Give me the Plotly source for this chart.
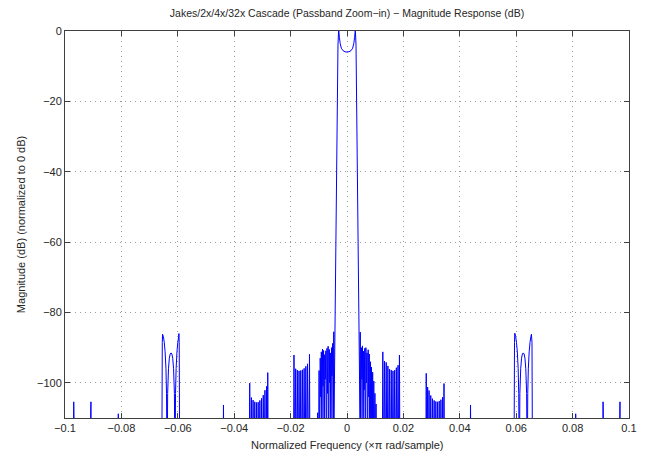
import plotly.graph_objects as go

# ---------------- data ----------------
# normalized frequency (x pi rad/sample) and magnitude (dB); -130 = deep null (below axis)
freq_far_left = [-0.0972, -0.0969, -0.0964, -0.0914, -0.0908, -0.0906, -0.0813, -0.0811, -0.0809]
mag_far_left = [-130, -105.4, -130, -130, -105.4, -130, -130, -108.8, -130]

freq_lobes_left = [-0.0657, -0.0655, -0.0654, -0.0651, -0.0648, -0.0645, -0.0642, -0.0640, -0.0638,
                   -0.0636, -0.0633, -0.0630, -0.0627, -0.0624, -0.0621, -0.0618, -0.0615, -0.0612, -0.0610,
                   -0.0608, -0.0606, -0.0603, -0.0600, -0.0597, -0.0596, -0.0595, -0.0593]
mag_lobes_left = [-130, -88.5, -86.2, -86.9, -88.5, -91.2, -96.0, -103.0, -130,
                  -103.0, -96.0, -93.0, -91.8, -91.5, -91.8, -93.0, -96.0, -103.0, -130,
                  -103.0, -96.0, -91.2, -88.5, -86.9, -86.0, -88.5, -130]

freq_spike_l44 = [-0.0440, -0.0438, -0.0436]
mag_spike_l44 = [-130, -106.3, -130]

freq_cluster_l31 = [-0.0347, -0.0345, -0.0342, -0.0339, -0.0336, -0.0333, -0.0330, -0.0327, -0.0324,
                    -0.0321, -0.0318, -0.0315, -0.0312, -0.0309, -0.0306, -0.0303, -0.0300, -0.0297,
                    -0.0294, -0.0291, -0.0288, -0.0285, -0.0283, -0.0281, -0.0279]
mag_cluster_l31 = [-130, -100.1, -130, -104.2, -130, -104.9, -130, -105.4, -130,
                   -105.6, -130, -105.5, -130, -105.0, -130, -104.4, -130, -103.5,
                   -130, -102.1, -130, -101.0, -130, -97.1, -130]

freq_cluster_l16 = [-0.0190, -0.0188, -0.0185, -0.0182, -0.0179, -0.0176, -0.0173, -0.0170, -0.0167,
                    -0.0164, -0.0161, -0.0158, -0.0155, -0.0152, -0.0149, -0.0146, -0.0143, -0.0140,
                    -0.0136, -0.0133, -0.0131, -0.0106, -0.0104, -0.0102]
mag_cluster_l16 = [-130, -92.1, -130, -96.0, -130, -96.4, -130, -96.6, -130,
                   -96.5, -130, -96.3, -130, -95.9, -130, -95.3, -130, -94.6,
                   -130, -91.9, -130, -130, -108.5, -130]

freq_cluster_l07 = [-0.0101, -0.0099, -0.0097, -0.0095, -0.0093, -0.0091, -0.0089, -0.0087, -0.0085,
                    -0.0083, -0.0081, -0.0079, -0.0077, -0.0075, -0.0073, -0.0071, -0.0069, -0.0067,
                    -0.0065, -0.0063, -0.0061, -0.0059, -0.0057, -0.0055, -0.0053, -0.0051, -0.0049,
                    -0.0047, -0.00466]
mag_cluster_l07 = [-130, -96.5, -130, -93.0, -104, -91.2, -130, -90.4, -101,
                   -90.8, -130, -92.0, -99, -90.9, -130, -90.2, -103, -89.6,
                   -130, -90.5, -100, -91.5, -130, -90.0, -98, -88.8, -130,
                   -85.5, -130]

freq_main_lobe = [-0.00462, -0.0032, -0.0030, -0.0029, -0.0027, -0.0024, -0.0020, -0.0014, -0.0007,
                  0.0, 0.0007, 0.0014, 0.0020, 0.0024, 0.0027, 0.0029, 0.0030, 0.0032, 0.00462]
mag_main_lobe = [-112, -4.0, -0.3, 0.0, -1.8, -3.6, -4.9, -5.6, -5.9,
                 -6.0, -5.9, -5.6, -4.9, -3.6, -1.8, 0.0, -0.3, -4.0, -112]

freq_cluster_r07 = [0.00466, 0.0047, 0.0049, 0.0051, 0.0053, 0.0055, 0.0057, 0.0059, 0.0061,
                    0.0063, 0.0065, 0.0067, 0.0069, 0.0071, 0.0073, 0.0075, 0.0077, 0.0079,
                    0.0081, 0.0083, 0.0085, 0.0087, 0.0089, 0.0091, 0.0093, 0.0095, 0.0097,
                    0.0099, 0.0101, 0.0103, 0.0105]
mag_cluster_r07 = [-130, -85.6, -130, -90.0, -99, -89.5, -130, -91.0, -102,
                   -90.2, -130, -90.0, -100, -91.5, -130, -90.6, -104, -91.8,
                   -130, -94.0, -130, -95.5, -130, -97.0, -130, -99.5, -130,
                   -103.0, -130, -106.0, -130]

freq_cluster_r16 = [0.0125, 0.0127, 0.0130, 0.0133, 0.0136, 0.0139, 0.0142, 0.0145, 0.0148,
                    0.0151, 0.0154, 0.0157, 0.0160, 0.0163, 0.0166, 0.0169, 0.0172, 0.0175,
                    0.0178, 0.0181, 0.0184, 0.0186, 0.0188]
mag_cluster_r16 = [-130, -91.2, -130, -93.8, -130, -94.2, -130, -95.2, -130,
                   -96.1, -130, -96.4, -130, -96.6, -130, -96.4, -130, -95.7,
                   -130, -95.0, -130, -92.1, -130]

freq_cluster_r31 = [0.0279, 0.0281, 0.0283, 0.0286, 0.0288, 0.0291, 0.0294, 0.0297, 0.0300,
                    0.0303, 0.0306, 0.0309, 0.0312, 0.0315, 0.0318, 0.0321, 0.0324, 0.0327,
                    0.0330, 0.0333, 0.0336, 0.0339, 0.0342, 0.0344, 0.0346]
mag_cluster_r31 = [-130, -97.3, -130, -101.2, -130, -102.2, -130, -103.6, -130,
                   -104.5, -130, -105.0, -130, -105.3, -130, -105.4, -130, -105.2,
                   -130, -104.8, -130, -104.1, -130, -100.2, -130]

freq_spike_r44 = [0.0436, 0.0438, 0.0440]
mag_spike_r44 = [-130, -106.3, -130]

freq_lobes_right = [0.0592, 0.0594, 0.0595, 0.0598, 0.0601, 0.0604, 0.0607, 0.0609, 0.0611,
                    0.0613, 0.0616, 0.0619, 0.0622, 0.0625, 0.0628, 0.0631, 0.0634, 0.0637, 0.0639,
                    0.0641, 0.0643, 0.0646, 0.0649, 0.0652, 0.0654, 0.0656, 0.0658]
mag_lobes_right = [-130, -88.5, -85.9, -86.8, -88.5, -91.2, -96.0, -103.0, -130,
                   -103.0, -96.0, -93.0, -91.8, -91.5, -91.8, -93.0, -96.0, -103.0, -130,
                   -103.0, -96.0, -91.2, -88.5, -86.9, -86.2, -88.5, -130]

freq_far_right = [0.0809, 0.0811, 0.0813, 0.0906, 0.0908, 0.0913, 0.0964, 0.0968, 0.0970]
mag_far_right = [-130, -108.8, -130, -130, -105.4, -130, -130, -105.4, -130]

x_tick_vals = [-0.1, -0.08, -0.06, -0.04, -0.02, 0, 0.02, 0.04, 0.06, 0.08, 0.1]
x_tick_text = ["\u22120.1", "\u22120.08", "\u22120.06", "\u22120.04", "\u22120.02", "0",
               "0.02", "0.04", "0.06", "0.08", "0.1"]
y_tick_vals = [-100, -80, -60, -40, -20, 0]
y_tick_text = ["\u2212100", "\u221280", "\u221260", "\u221240", "\u221220", "0"]

title_text = "Jakes/2x/4x/32x Cascade (Passband Zoom\u2212in) \u2212 Magnitude Response (dB)"
x_label = "Normalized Frequency (\u00d7\u03c0 rad/sample)"
y_label = "Magnitude (dB) (normalized to 0 dB)"

segments = [
    (freq_far_left, mag_far_left), (freq_lobes_left, mag_lobes_left), (freq_spike_l44, mag_spike_l44),
    (freq_cluster_l31, mag_cluster_l31), (freq_cluster_l16, mag_cluster_l16),
    (freq_cluster_l07, mag_cluster_l07), (freq_main_lobe, mag_main_lobe),
    (freq_cluster_r07, mag_cluster_r07), (freq_cluster_r16, mag_cluster_r16),
    (freq_cluster_r31, mag_cluster_r31), (freq_spike_r44, mag_spike_r44),
    (freq_lobes_right, mag_lobes_right), (freq_far_right, mag_far_right),
]

W, H = 647, 453
L, R, T, B = 65, 10, 31, 35
FONT = "Liberation Sans, Arial, sans-serif"
TXT = "#262626"

fig = go.Figure()
for f, m in segments:
    fig.add_trace(go.Scatter(x=f, y=m, mode="lines",
                             line=dict(color="#0000ff", width=1, simplify=False), hoverinfo="skip"))

axis_common = dict(
    showline=True, linecolor="#404040", linewidth=1, mirror="ticks",
    ticks="inside", ticklen=5, tickcolor="#404040", tickwidth=1,
    showgrid=True, gridcolor="#9a9a9a", gridwidth=1, griddash="1px,4px",
    zeroline=False, tickfont=dict(family=FONT, size=11, color=TXT),
)

fig.update_layout(
    width=W, height=H,
    margin=dict(l=L, r=R, t=T, b=B),
    paper_bgcolor="white", plot_bgcolor="white",
    showlegend=False,
    title=dict(text=title_text, x=0.5, xref="paper", xanchor="center",
               y=1 - 13 / H, yref="container", yanchor="middle",
               font=dict(family=FONT, size=10.5, color=TXT)),
    xaxis=dict(range=[-0.1, 0.1], tickvals=x_tick_vals, ticktext=x_tick_text, **axis_common),
    yaxis=dict(range=[-110, 0], tickvals=y_tick_vals, ticktext=y_tick_text, **axis_common),
    annotations=[
        dict(text=x_label, x=0.5, y=0, xref="paper", yref="paper", xanchor="center",
             yanchor="top", yshift=-19, showarrow=False,
             font=dict(family=FONT, size=11, color=TXT)),
        dict(text=y_label, x=-45 / (W - L - R), y=0.5, xref="paper", yref="paper",
             xanchor="center", yanchor="middle", textangle=-90, showarrow=False,
             font=dict(family=FONT, size=11, color=TXT)),
    ],
)

fig.write_html("out.html")
